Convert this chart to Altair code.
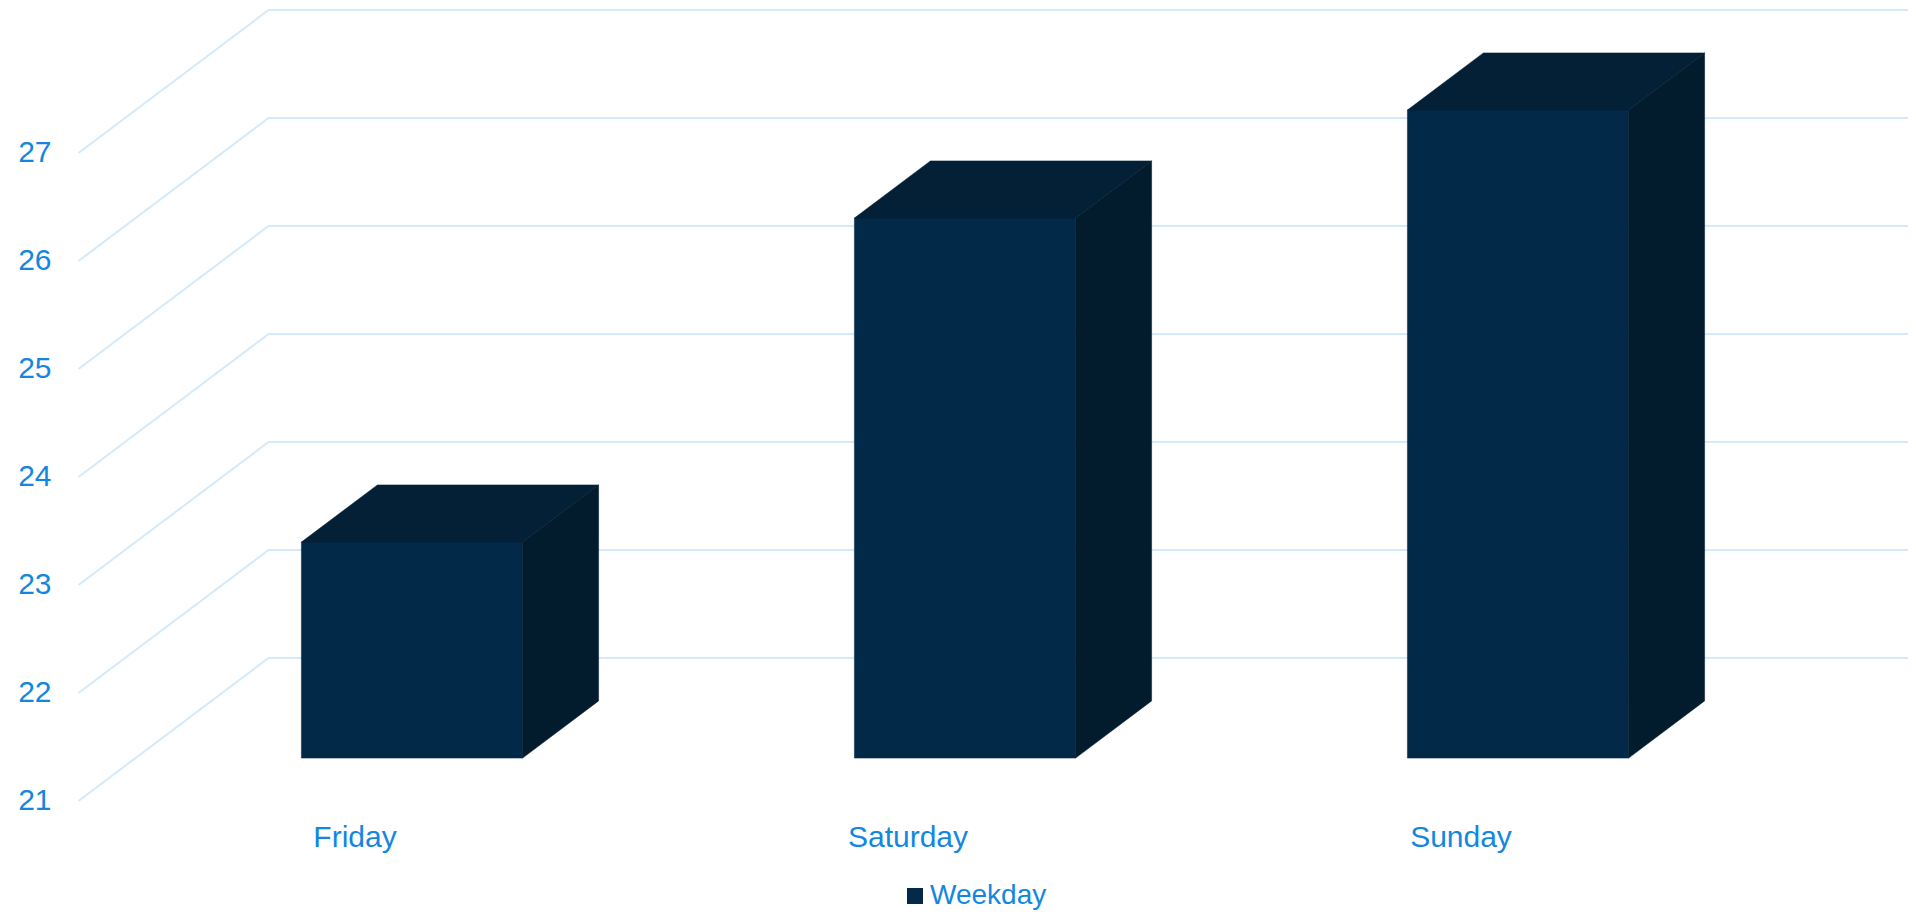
import altair as alt
import pandas as pd

# ---- data ----
categories = ["Friday", "Saturday", "Sunday"]
values = [23, 26, 27]
y_ticks = [21, 22, 23, 24, 25, 26, 27]
series_name = "Weekday"

# ---- styling / layout constants ----
FONT = "Liberation Sans"
TEXT_COLOR = "#1387e0"
GRID_COLOR = "#d4e9fb"
FRONT = "#022948"
TOP = "#032037"
SIDE = "#021b2d"
BASE = 21
W, H = 1900, 903
Y0 = 793.0                                  # pixel row of the base value on the front plane
PX_CAT, PX_UNIT = 553.0, 108.0
SX, SY = 190.0 / PX_CAT, 143.0 / PX_UNIT   # depth shift (category units, value units)
D_FRONT, D_BACK, HALF = 0.3, 0.7, 0.2

x_scale = alt.Scale(domain=[-347 / PX_CAT, (W - 347) / PX_CAT], nice=False, zero=False)
y_scale = alt.Scale(domain=[BASE - (H - Y0) / PX_UNIT, BASE + Y0 / PX_UNIT], nice=False, zero=False)

idx = list(range(len(categories)))

# front faces
front_df = pd.DataFrame({
    "cat": categories,
    "series": [series_name] * len(categories),
    "x": [i - HALF + D_FRONT * SX for i in idx],
    "x2": [i + HALF + D_FRONT * SX for i in idx],
    "y": [BASE + D_FRONT * SY] * len(categories),
    "y2": [v + D_FRONT * SY for v in values],
})

# gridlines: front-left wall diagonal, then along back wall
grid_rows = []
left, right = -0.5, len(categories) - 0.5
for t in y_ticks:
    grid_rows.append({"t": t, "o": 0, "x": left, "y": t})
    grid_rows.append({"t": t, "o": 1, "x": left + SX, "y": t + SY})
    grid_rows.append({"t": t, "o": 2, "x": right + SX + 0.5, "y": t + SY})
grid_df = pd.DataFrame(grid_rows)

ylab_df = pd.DataFrame({"x": [left] * len(y_ticks), "y": y_ticks, "label": [str(t) for t in y_ticks]})
xlab_df = pd.DataFrame({"x": idx, "y": [BASE] * len(categories), "label": categories})


def X(f="x"):
    return alt.X(f"{f}:Q", scale=x_scale, axis=None)


def Y(f="y"):
    return alt.Y(f"{f}:Q", scale=y_scale, axis=None)


grid = alt.Chart(grid_df).mark_line(color=GRID_COLOR, strokeWidth=2, clip=True).encode(
    x=X(), y=Y(), detail="t:N", order="o:Q")

front = alt.Chart(front_df).mark_rect(stroke=FRONT, strokeWidth=0.5).encode(
    x=X(), x2="x2:Q", y=Y(), y2="y2:Q",
    color=alt.Color("series:N",
                    scale=alt.Scale(domain=[series_name], range=[FRONT]),
                    legend=alt.Legend(title=None, orient="none", legendX=893, legendY=874,
                                      padding=0, symbolType="square", symbolSize=256,
                                      symbolStrokeWidth=0, labelOffset=1,
                                      labelFont=FONT, labelFontSize=28, labelColor=TEXT_COLOR)))

faces = []
for i, c, v in zip(idx, categories, values):
    top_df = pd.DataFrame({
        "y": [v + d * SY for d in (D_FRONT, D_BACK)],
        "x": [i - HALF + d * SX for d in (D_FRONT, D_BACK)],
        "x2": [i + HALF + d * SX for d in (D_FRONT, D_BACK)],
    })
    side_df = pd.DataFrame({
        "x": [i + HALF + d * SX for d in (D_FRONT, D_BACK)],
        "y": [v + d * SY for d in (D_FRONT, D_BACK)],
        "y2": [BASE + d * SY for d in (D_FRONT, D_BACK)],
    })
    faces.append(alt.Chart(top_df).mark_area(orient="horizontal", color=TOP,
                                             stroke=TOP, strokeWidth=0.5).encode(
        y=Y(), x=X(), x2="x2:Q"))
    faces.append(alt.Chart(side_df).mark_area(orient="vertical", color=SIDE,
                                              stroke=SIDE, strokeWidth=0.5).encode(
        x=X(), y=Y(), y2="y2:Q"))

ylabels = alt.Chart(ylab_df).mark_text(font=FONT, fontSize=30, color=TEXT_COLOR,
                                       align="right", baseline="middle", dx=-27, dy=0).encode(
    x=X(), y=Y(), text="label:N")

xlabels = alt.Chart(xlab_df).mark_text(font=FONT, fontSize=30, color=TEXT_COLOR,
                                       align="center", baseline="alphabetic", dy=46).encode(
    x=X(), y=Y(), text="label:N")

chart = alt.layer(grid, front, *faces, ylabels, xlabels).properties(
    width=W, height=H, autosize=alt.AutoSizeParams(type="none"), padding=0,
    background="white"
).configure_view(strokeWidth=0, stroke="transparent")

chart.save("out.html", embed_options={"renderer": "svg", "actions": False})
